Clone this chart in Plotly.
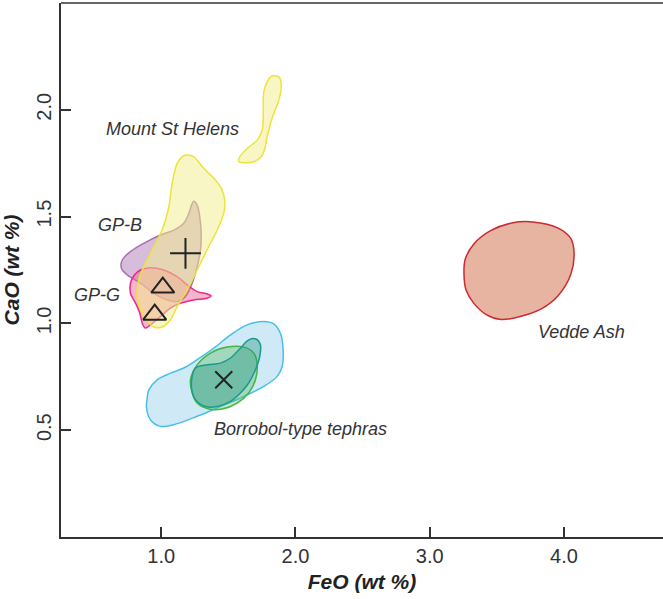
import plotly.graph_objects as go

# ---------------- data (FeO, CaO in wt %) ----------------
vedde_x = [3.264, 3.327, 3.453, 3.610, 3.767, 3.956, 4.050, 4.075, 4.050, 3.956, 3.830, 3.673, 3.531, 3.421, 3.327, 3.270, 3.255]
vedde_y = [1.300, 1.371, 1.434, 1.470, 1.475, 1.446, 1.398, 1.327, 1.229, 1.130, 1.068, 1.032, 1.018, 1.041, 1.095, 1.157, 1.229]

msh_upper_x = [1.838, 1.876, 1.894, 1.888, 1.868, 1.838, 1.814, 1.789, 1.769, 1.745, 1.690, 1.615, 1.578, 1.585, 1.640, 1.715, 1.752, 1.760, 1.760, 1.764, 1.789, 1.814]
msh_upper_y = [2.159, 2.154, 2.123, 2.076, 2.030, 1.983, 1.936, 1.874, 1.811, 1.780, 1.757, 1.752, 1.757, 1.780, 1.819, 1.858, 1.905, 1.967, 2.030, 2.084, 2.131, 2.154]

msh_lower_x = [1.188, 1.243, 1.317, 1.404, 1.454, 1.474, 1.466, 1.417, 1.342, 1.268, 1.194, 1.119, 1.069, 1.007, 0.945, 0.900, 0.846, 0.821, 0.833, 0.883, 0.945, 1.007, 1.057, 1.082, 1.119, 1.156]
msh_lower_y = [1.788, 1.780, 1.726, 1.671, 1.624, 1.570, 1.515, 1.437, 1.344, 1.250, 1.157, 1.079, 1.017, 0.983, 0.983, 1.009, 1.063, 1.126, 1.204, 1.282, 1.359, 1.437, 1.546, 1.656, 1.749, 1.780]

gpb_x = [1.243, 1.268, 1.287, 1.298, 1.293, 1.268, 1.231, 1.181, 1.119, 1.045, 0.945, 0.846, 0.747, 0.704, 0.710, 0.771, 0.870, 0.995, 1.094, 1.168, 1.206, 1.226]
gpb_y = [1.572, 1.554, 1.500, 1.422, 1.344, 1.266, 1.188, 1.126, 1.102, 1.110, 1.141, 1.188, 1.227, 1.258, 1.297, 1.336, 1.375, 1.414, 1.437, 1.469, 1.515, 1.554]

gpg_x = [0.846, 0.920, 1.019, 1.119, 1.194, 1.268, 1.342, 1.372, 1.342, 1.243, 1.144, 1.069, 0.995, 0.920, 0.883, 0.859, 0.841, 0.809, 0.771, 0.771, 0.801]
gpg_y = [1.250, 1.261, 1.250, 1.219, 1.180, 1.149, 1.138, 1.129, 1.118, 1.110, 1.095, 1.071, 1.032, 0.993, 0.978, 1.001, 1.048, 1.095, 1.141, 1.188, 1.227]

borr_blue_x = [0.896, 0.908, 0.970, 1.069, 1.168, 1.268, 1.392, 1.516, 1.640, 1.764, 1.838, 1.888, 1.908, 1.901, 1.864, 1.764, 1.615, 1.442, 1.268, 1.094, 0.995, 0.920, 0.891]
borr_blue_y = [0.651, 0.689, 0.736, 0.767, 0.791, 0.830, 0.884, 0.946, 0.993, 1.009, 0.998, 0.954, 0.876, 0.798, 0.752, 0.705, 0.658, 0.611, 0.565, 0.526, 0.518, 0.549, 0.604]

borr_green_x = [1.218, 1.268, 1.367, 1.491, 1.615, 1.690, 1.715, 1.702, 1.652, 1.566, 1.454, 1.354, 1.268, 1.231]
borr_green_y = [0.736, 0.806, 0.861, 0.889, 0.889, 0.861, 0.806, 0.736, 0.674, 0.627, 0.599, 0.599, 0.627, 0.674]

borr_teal_x = [1.231, 1.255, 1.343, 1.442, 1.516, 1.590, 1.652, 1.710, 1.739, 1.734, 1.702, 1.652, 1.590, 1.516, 1.417, 1.330, 1.255, 1.226]
borr_teal_y = [0.752, 0.791, 0.806, 0.814, 0.838, 0.884, 0.923, 0.926, 0.900, 0.845, 0.783, 0.721, 0.674, 0.635, 0.611, 0.611, 0.643, 0.697]

plus_x, plus_y = [1.181], [1.328]
tri_x, tri_y = [1.012, 0.952], [1.168, 1.041]
cross_x, cross_y = [1.466], [0.736]

labels = ["Mount St Helens", "GP-B", "GP-G", "Vedde Ash", "Borrobol-type tephras"]
label_x = [1.088, 0.695, 0.521, 4.133, 2.039]
label_y = [1.91, 1.459, 1.134, 0.959, 0.504]

x_ticks = [1.0, 2.0, 3.0, 4.0]
y_ticks = [0.5, 1.0, 1.5, 2.0]

# ---------------- figure ----------------
fig = go.Figure()

def blob(x, y, fill, line):
    fig.add_trace(go.Scatter(
        x=x + x[:1], y=y + y[:1], mode="lines", fill="toself",
        fillcolor=fill, line=dict(color=line, width=1.5, shape="spline", smoothing=1.0),
        hoverinfo="skip", showlegend=False))

blob(vedde_x, vedde_y, "rgb(230,180,160)", "#cc2a30")
blob(borr_blue_x, borr_blue_y, "rgba(160,214,238,0.5)", "#48c0e6")
blob(borr_green_x, borr_green_y, "rgba(100,190,110,0.42)", "#44b448")
blob(borr_teal_x, borr_teal_y, "rgba(40,150,130,0.4)", "#1a9c8c")
blob(gpb_x, gpb_y, "rgba(178,122,186,0.5)", "#a870b0")
blob(gpg_x, gpg_y, "rgba(236,110,152,0.5)", "#e8288a")
blob(msh_lower_x, msh_lower_y, "rgba(241,237,137,0.5)", "#ece43a")
blob(msh_upper_x, msh_upper_y, "rgba(241,237,137,0.5)", "#ece43a")

mk_col = "#222222"
fig.add_trace(go.Scatter(x=plus_x, y=plus_y, mode="markers", showlegend=False,
                         marker=dict(symbol="cross-thin-open", size=22, color=mk_col,
                                     line=dict(color=mk_col, width=2))))
fig.add_trace(go.Scatter(x=tri_x, y=tri_y, mode="markers", showlegend=False,
                         marker=dict(symbol="triangle-up-open", size=20, color=mk_col,
                                     line=dict(color=mk_col, width=2))))
fig.add_trace(go.Scatter(x=cross_x, y=cross_y, mode="markers", showlegend=False,
                         marker=dict(symbol="x-thin-open", size=17, color=mk_col,
                                     line=dict(color=mk_col, width=2))))

for t, x, y in zip(labels, label_x, label_y):
    fig.add_annotation(x=x, y=y, text=t, showarrow=False, xanchor="center", yanchor="middle",
                       font=dict(family="Liberation Sans, Arial, sans-serif", size=18, color="#333333",
                                 style="italic"))

axis_common = dict(showgrid=False, zeroline=False, showline=True, linecolor="#333333", linewidth=1.5,
                   ticks="inside", ticklen=10, tickwidth=1.5, tickcolor="#333333",
                   tickfont=dict(family="Liberation Sans, Arial, sans-serif", size=20, color="#333333"))

fig.update_layout(
    width=663, height=599, margin=dict(l=61, r=0, t=3, b=62),
    paper_bgcolor="white", plot_bgcolor="white",
    xaxis=dict(range=[0.254, 4.737], tickvals=x_ticks, ticktext=[f"{v:.1f}" for v in x_ticks],
               title=dict(text="<b><i>FeO (wt %)</i></b>", standoff=9,
                          font=dict(family="Liberation Sans, Arial, sans-serif", size=21, color="#222222")),
               **axis_common),
    yaxis=dict(range=[0, 2.5], tickvals=y_ticks, ticktext=[f"{v:.1f}" for v in y_ticks], tickangle=-90,
               title=dict(text="<b><i>CaO (wt %)</i></b>", standoff=11,
                          font=dict(family="Liberation Sans, Arial, sans-serif", size=21, color="#222222")),
               **axis_common),
    shapes=[dict(type="line", xref="paper", yref="paper", x0=0, x1=1, y0=1, y1=1,
                 line=dict(color="#333333", width=1.5))],
)

fig.write_html("out.html")
